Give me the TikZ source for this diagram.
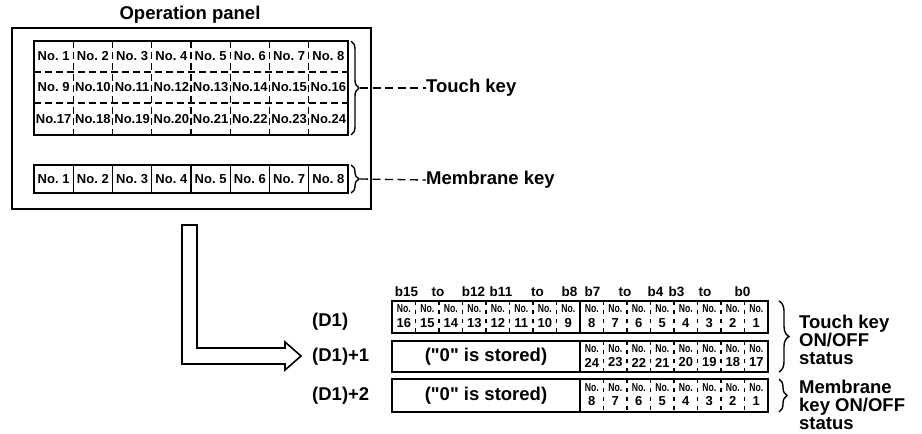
\documentclass[tikz,border=0pt]{standalone}
\usepackage{fontspec}
\usepackage{graphicx}
\setmainfont{Liberation Sans}[Ligatures=TeXOff]
\usetikzlibrary{decorations.pathreplacing}
\begin{document}
\begin{tikzpicture}[x=1pt,y=-1pt,
  lbl/.style={font=\fontsize{18.5}{18}\selectfont\bfseries, inner sep=0pt},
  keytxt/.style={font=\fontsize{13}{13}\selectfont\bfseries, inner sep=0pt},
  bittxt/.style={font=\fontsize{13.5}{14}\selectfont\bfseries, inner sep=0pt},
  notxt/.style={font=\fontsize{11.5}{10}\selectfont\bfseries, inner sep=0pt},
  numtxt/.style={font=\fontsize{13}{12}\selectfont\bfseries, inner sep=0pt},
  boxline/.style={draw, line width=1.4pt},
  regline/.style={draw, line width=2pt},
  griddash/.style={line width=1.2pt, dash pattern=on 7pt off 4pt},
  celldash/.style={line width=1.1pt, dash pattern=on 4pt off 5pt},
  leader/.style={line width=1.3pt, dash pattern=on 8pt off 4.5pt},
  brc/.style={decorate, decoration={brace, amplitude=#1}, line width=1.4pt},
]
\useasboundingbox (0,0) rectangle (922,434);

% ---------- operation panel ----------
\node[lbl] (title) at (190,15) {Operation panel};
\draw[boxline] (12,28) rectangle (371,209);

% touch key grid
\draw[boxline] (34,41) rectangle (348,135);
\draw[griddash] (34,72) -- (348,72);
\draw[griddash] (34,103) -- (348,103);
\foreach \i in {1,...,7} {
  \draw[griddash] ({34+39.25*\i},41) -- ({34+39.25*\i},135);
}
\foreach \r/\yy in {0/56.5,1/87.5,2/119} {
  \foreach \c in {0,...,7} {
    \pgfmathtruncatemacro\n{8*\r+\c+1}
    \node[keytxt] (tk\n) at ({34+39.25*\c+19.6},\yy)
      {\ifnum\n<10 No.~\n\else No.\n\fi};
  }
}

% membrane key row
\draw[boxline] (34,165) rectangle (348,193);
\foreach \i in {1,...,7} {
  \draw[line width=1.4pt] ({34+39.25*\i},165) -- ({34+39.25*\i},193);
}
\foreach \c in {0,...,7} {
  \pgfmathtruncatemacro\n{\c+1}
  \node[keytxt] (mk\n) at ({34+39.25*\c+19.6},179) {No.~\n};
}

% braces and leaders
\draw[brc=8pt] (351,41) -- (351,135);
\coordinate (tkTip) at (360,88);
\node[lbl, anchor=west] (touchkey) at (426,88) {Touch key};
\draw[leader] (tkTip) -- (touchkey.west);

\draw[brc=8pt] (351,165) -- (351,193);
\coordinate (mkTip) at (360,179);
\node[lbl, anchor=west] (membkey) at (426,180) {Membrane key};
\draw[leader] (mkTip) -- (membkey.west);

% ---------- hollow L arrow ----------
\draw[line width=1.6pt, line join=miter]
  (182,225) -- (197,225) -- (197,348) -- (285,348) -- (285,342)
  -- (301,356) -- (285,370) -- (285,364) -- (182,364) -- cycle;

% ---------- device labels ----------
\node[lbl, anchor=west] (d0) at (312,322) {(D1)};
\node[lbl, anchor=west] (d1) at (312,357) {(D1)+1};
\node[lbl, anchor=west] (d2) at (312,396) {(D1)+2};

% ---------- bit labels ----------
\foreach \t/\xx [count=\k] in {b15/406.5,to/438,b12/473.5,b11/501,to/537.5,b8/569.5,
                                b7/592.5,to/625,b4/655.5,b3/676.5,to/705,b0/742.5} {
  \node[bittxt] (bit\k) at (\xx,292) {\t};
}

% ---------- register rows ----------
% row 1
\draw[regline] (392,301) rectangle (768,333);
\draw[line width=1.6pt] (580,301) -- (580,333);
\foreach \i in {1,...,7,9,10,...,15} {
  \draw[celldash] ({392+23.5*\i},301) -- ({392+23.5*\i},333);
}
\foreach \c in {0,...,15} {
  \pgfmathtruncatemacro\n{16-\c}
  \node[notxt] (ra\n) at ({392+23.5*\c+11.75},309) {\scalebox{0.75}[1]{No.}};
  \node[numtxt] (rb\n) at ({392+23.5*\c+11.75},323) {\n};
}
% row 2
\draw[regline] (392,341) rectangle (768,372);
\draw[line width=1.6pt] (580,341) -- (580,372);
\node[lbl] (zero1) at (486,356.5) {("0" is stored)};
\foreach \i in {9,10,...,15} {
  \draw[celldash] ({392+23.5*\i},341) -- ({392+23.5*\i},372);
}
\foreach \c in {8,...,15} {
  \pgfmathtruncatemacro\n{32-\c}
  \node[notxt] (sa\n) at ({392+23.5*\c+11.75},349) {\scalebox{0.75}[1]{No.}};
  \node[numtxt] (sb\n) at ({392+23.5*\c+11.75},362.5) {\n};
}
% row 3
\draw[regline] (392,379) rectangle (768,412);
\draw[line width=1.6pt] (580,379) -- (580,412);
\node[lbl] (zero2) at (486,395.5) {("0" is stored)};
\foreach \i in {9,10,...,15} {
  \draw[celldash] ({392+23.5*\i},379) -- ({392+23.5*\i},412);
}
\foreach \c in {8,...,15} {
  \pgfmathtruncatemacro\n{16-\c}
  \node[notxt] (ta\n) at ({392+23.5*\c+11.75},387.5) {\scalebox{0.75}[1]{No.}};
  \node[numtxt] (tb\n) at ({392+23.5*\c+11.75},401) {\n};
}

% ---------- right braces and status texts ----------
\draw[brc=10pt] (779,301) -- (779,372);
\node[lbl, anchor=west, align=left] (tstat) at (799,340)
  {Touch key\\ON/OFF\\status};
\draw[brc=8pt] (779,379) -- (779,412);
\node[lbl, anchor=west, align=left] (mstat) at (799,405)
  {Membrane\\key ON/OFF\\status};
\end{tikzpicture}
\end{document}
